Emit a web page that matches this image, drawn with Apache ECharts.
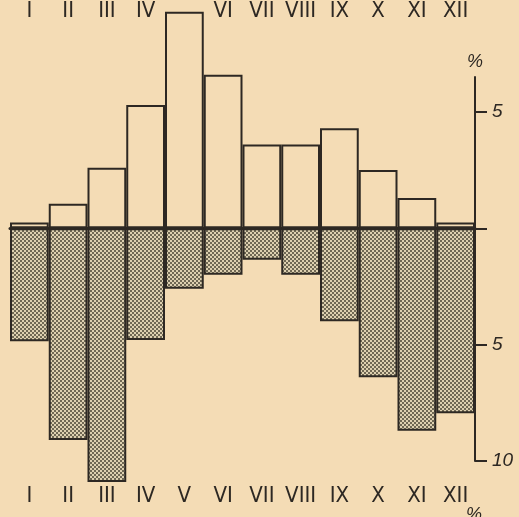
<!DOCTYPE html>
<html>
<head>
<meta charset="utf-8">
<style>
  html, body { margin: 0; padding: 0; background: #f4dcb5; }
  #chart { width: 519px; height: 517px; }
</style>
<script src="https://cdn.jsdelivr.net/npm/echarts@6/dist/echarts.min.js"></script>
</head>
<body>
<div id="chart"></div>
<script>
  // months, bottom row of labels
  var months = ['I', 'II', 'III', 'IV', 'V', 'VI', 'VII', 'VIII', 'IX', 'X', 'XI', 'XII']
  // top row, V is hidden under the tall bar
  var topLabels = ['I', 'II', 'III', 'IV', '', 'VI', 'VII', 'VIII', 'IX', 'X', 'XI', 'XII']
  // % above the zero line (white bars)
  var upValues = [0.25, 1.05, 2.6, 5.3, 9.3, 6.6, 3.6, 3.6, 4.3, 2.5, 1.3, 0.25]
  // % below the zero line (dotted bars)
  var downValues = [-4.85, -9.1, -10.9, -4.8, -2.6, -2.0, -1.35, -2.0, -4.0, -6.4, -8.7, -7.95]
  var yTicks = [-10, -5, 0, 5]
  var yLabels = [-10, -5, 5]

  var ink = '#2d2823'
  var paper = '#f4dcb5'

  // dotted fill for the lower bars
  var tile = document.createElement('canvas')
  tile.width = 4
  tile.height = 4
  var ctx = tile.getContext('2d')
  ctx.fillStyle = '#ddd0b0'
  ctx.fillRect(0, 0, 4, 4)
  ctx.fillStyle = '#6f6854'
  ctx.fillRect(0, 0, 2, 2)
  ctx.fillRect(2, 2, 2, 2)

  var labelFont = {
    fontFamily: '"DejaVu Sans Condensed", "Liberation Sans Narrow", "Liberation Sans", sans-serif',
    fontSize: 22,
    color: ink
  }

  var myChart = echarts.init(document.getElementById('chart'))
  myChart.setOption({
    backgroundColor: paper,
    animation: false,
    grid: {
      left: 10,
      right: 44,
      top: 77,
      bottom: 56
    },
    xAxis: [
      {
        type: 'category',
        data: months,
        position: 'bottom',
        axisLine: { onZero: true, lineStyle: { color: ink, width: 3 } },
        axisTick: { show: false },
        axisLabel: { show: false }
      },
      {
        type: 'category',
        data: months,
        position: 'bottom',
        axisLine: { show: false, onZero: false },
        axisTick: { show: false },
        axisLabel: Object.assign({ margin: 24, interval: 0 }, labelFont)
      },
      {
        type: 'category',
        data: topLabels,
        position: 'top',
        axisLine: { show: false, onZero: false },
        axisTick: { show: false },
        axisLabel: Object.assign({ margin: 55, interval: 0 }, labelFont)
      }
    ],
    yAxis: {
      type: 'value',
      position: 'right',
      min: -10,
      max: 6.5,
      name: '%',
      nameLocation: 'end',
      nameGap: 6,
      nameTextStyle: {
        color: ink,
        fontSize: 18,
        fontStyle: 'italic',
        fontFamily: 'Liberation Sans',
        align: 'right',
        padding: [0, -8, 0, 0]
      },
      axisLine: { show: true, lineStyle: { color: ink, width: 2 } },
      axisTick: {
        show: true,
        length: 12,
        customValues: yTicks,
        lineStyle: { color: ink, width: 2 }
      },
      axisLabel: {
        customValues: yLabels,
        margin: 17,
        color: ink,
        fontSize: 19,
        fontStyle: 'italic',
        fontFamily: 'Liberation Sans',
        formatter: function (v) {
          return Math.abs(v)
        }
      },
      splitLine: { show: false }
    },
    graphic: [
      {
        type: 'text',
        left: 466,
        top: 506,
        style: { text: '%', fontSize: 18, fontStyle: 'italic', fontFamily: 'Liberation Sans', fill: ink }
      }
    ],
    series: [
      {
        type: 'bar',
        data: upValues,
        xAxisIndex: 0,
        barCategoryGap: '0%',
        barGap: '-100%',
        clip: false,
        itemStyle: { color: paper, borderColor: ink, borderWidth: 2 }
      },
      {
        type: 'bar',
        data: downValues,
        xAxisIndex: 0,
        barCategoryGap: '0%',
        barGap: '-100%',
        clip: false,
        itemStyle: {
          color: { image: tile, repeat: 'repeat' },
          borderColor: ink,
          borderWidth: 2
        }
      }
    ]
  })
</script>
</body>
</html>
